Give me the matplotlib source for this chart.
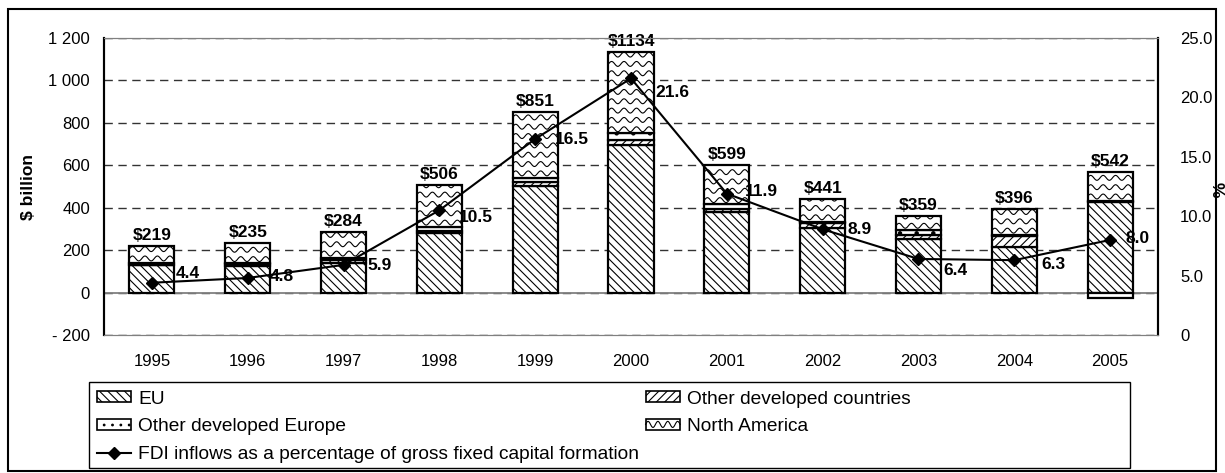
import numpy as np
import matplotlib.pyplot as plt
from matplotlib.patches import Rectangle
from matplotlib.lines import Line2D
from matplotlib.legend_handler import HandlerBase
from matplotlib.ticker import FixedLocator, FuncFormatter

plt.rcParams['font.family'] = ['Liberation Sans', 'DejaVu Sans']
plt.rcParams['hatch.linewidth'] = 0.8

years = ['1995', '1996', '1997', '1998', '1999', '2000', '2001', '2002', '2003', '2004', '2005']
eu = [128, 125, 140, 280, 500, 695, 380, 305, 253, 214, 425]
other_dev_countries = [3, 8, 14, 10, 20, 25, 16, 22, 20, 52, 8]
other_dev_europe = [10, 5, 10, 20, 22, 30, 20, 8, 22, 6, -24]
north_america = [78, 97, 120, 196, 309, 384, 183, 106, 64, 124, 133]
totals = [219, 235, 284, 506, 851, 1134, 599, 441, 359, 396, 542]
fdi_pct = [4.4, 4.8, 5.9, 10.5, 16.5, 21.6, 11.9, 8.9, 6.4, 6.3, 8.0]

# pixel offsets of the % labels from their markers (layout only)
pct_offsets = [(36, 9), (34, 1), (36, -1), (37, -7), (37, -1), (41, -14),
               (35, 2), (37, 0), (37, -12), (39, -4), (27, 1)]

W, H = 1225, 473
fig = plt.figure(figsize=(W / 100, H / 100), dpi=100)
ax = fig.add_axes([104 / W, 1 - 335 / H, (1158 - 104) / W, (335 - 38) / H])
ax2 = ax.twinx()

x = np.arange(len(years))
width = 0.47
pos_base = np.zeros(len(years))
neg_base = np.zeros(len(years))
series = [(eu, '\\\\\\\\'), (other_dev_countries, '////'),
          (other_dev_europe, '.'), (north_america, None)]
na_bars = None
for vals, hatch in series:
    v = np.array(vals, dtype=float)
    bottom = np.where(v >= 0, pos_base, neg_base)
    bars = ax.bar(x, v, width, bottom=bottom, facecolor='white', edgecolor='black',
                  linewidth=1.6, hatch=hatch, zorder=2)
    pos_base += np.clip(v, 0, None)
    neg_base += np.clip(v, None, 0)
    if hatch is None:
        na_bars = bars

# wavy fill for North America (no built-in wave hatch)
period = 0.13
amp = 11.5
row_gap = 44
for p in na_bars.patches:
    x0, y0 = p.get_x(), p.get_y()
    x1, y1 = x0 + p.get_width(), y0 + p.get_height()
    xs = np.linspace(x0, x1, 120)
    yy = y0 + row_gap * 0.45
    while yy < y1 + amp:
        ln, = ax.plot(xs, yy + amp * np.sin(2 * np.pi * (xs - x0) / period),
                      color='black', lw=0.8, zorder=2.5)
        ln.set_clip_path(p)
        yy += row_gap

for i, t in enumerate(totals):
    ax.annotate(f'${t}', (x[i], pos_base[i]), xytext=(0, 3), textcoords='offset pixels',
                ha='center', va='bottom', fontsize=12.5, fontweight='bold', zorder=5)

ax.set_xlim(-0.5, len(years) - 0.5)
ax.set_ylim(-200, 1200)
ax.yaxis.set_major_locator(FixedLocator(range(-200, 1201, 200)))


def fmt_left(v, pos):
    v = int(round(v))
    if v < 0:
        return '- ' + f'{-v:,}'.replace(',', ' ')
    return f'{v:,}'.replace(',', ' ')


ax.yaxis.set_major_formatter(FuncFormatter(fmt_left))
ax.set_xticks(x)
ax.set_xticklabels(years)
ax.tick_params(axis='x', length=0, pad=14, labelsize=12)
ax.tick_params(axis='y', length=0, pad=10, labelsize=12)
ax.set_axisbelow(True)
ax.yaxis.grid(True, color='#333333', linestyle=(0, (6, 4)), linewidth=1)
ax.axhline(0, color='#808080', lw=1.3, zorder=1.5)
ax.set_ylabel('$ billion', fontsize=12.5, fontweight='bold', labelpad=9)

ax2.plot(x, fdi_pct, color='black', lw=1.5, marker='D', markersize=6, zorder=6)
for i, v in enumerate(fdi_pct):
    ax2.annotate(f'{v:.1f}', (x[i], v), xytext=pct_offsets[i], textcoords='offset pixels',
                 ha='center', va='center', fontsize=12.5, fontweight='bold')
ax2.set_ylim(0, 25)
ax2.set_yticks([0, 5, 10, 15, 20, 25])
ax2.set_yticklabels(['0', '5.0', '10.0', '15.0', '20.0', '25.0'])
ax2.tick_params(axis='y', length=0, pad=16, labelsize=12)
fig.text(1216 / W, 1 - 190 / H, '%', rotation=270, fontsize=12.5, fontweight='bold',
         ha='center', va='center')

for a in (ax, ax2):
    a.spines['top'].set_color('#808080')
    a.spines['bottom'].set_color('#808080')
    a.spines['left'].set_color('black')
    a.spines['left'].set_linewidth(1.5)
    a.spines['right'].set_color('black')
    a.spines['right'].set_linewidth(1.5)


class WaveHandler(HandlerBase):
    def create_artists(self, legend, orig_handle, xdescent, ydescent, width, height,
                       fontsize, trans):
        rect = Rectangle((-xdescent, -ydescent), width, height, facecolor='white',
                         edgecolor='black', lw=1.2, transform=trans)
        xs = np.linspace(-xdescent, -xdescent + width, 60)
        ys = -ydescent + height * 0.5 + height * 0.28 * np.sin(xs / width * 2 * np.pi * 3.5)
        wave = Line2D(xs, ys, color='black', lw=0.8, transform=trans)
        return [rect, wave]


h_eu = Rectangle((0, 0), 1, 1, facecolor='white', edgecolor='black', lw=1.2, hatch='\\\\\\\\')
h_odc = Rectangle((0, 0), 1, 1, facecolor='white', edgecolor='black', lw=1.2, hatch='////')
h_ode = Rectangle((0, 0), 1, 1, facecolor='white', edgecolor='black', lw=1.2, hatch='..')
h_na = Rectangle((0, 0), 1, 1, facecolor='white', edgecolor='black', lw=1.2)
h_fdi = Line2D([], [], color='black', lw=1.5, marker='D', markersize=6)

handles = [h_eu, h_ode, h_fdi, h_odc, h_na]
labels = ['EU', 'Other developed Europe',
          'FDI inflows as a percentage of gross fixed capital formation',
          'Other developed countries', 'North America']
fig.legend(handles, labels, loc='upper left', bbox_to_anchor=(89 / W, 1 - 383 / H),
           ncol=2, frameon=False, fontsize=13.8, handlelength=1.8, handleheight=0.5,
           handletextpad=0.35, labelspacing=0.55, columnspacing=0.35, borderpad=0.4,
           borderaxespad=0, handler_map={h_na: WaveHandler()})

fig.patches.append(Rectangle((89 / W, 1 - 468 / H), (1130 - 89) / W, (468 - 382) / H,
                             transform=fig.transFigure, fill=False, edgecolor='black', lw=1))
fig.patches.append(Rectangle((8 / W, 2 / H), (1216 - 8) / W, (H - 11) / H,
                             transform=fig.transFigure, fill=False, edgecolor='black', lw=1.5))

fig.savefig('out.png', dpi=100)
